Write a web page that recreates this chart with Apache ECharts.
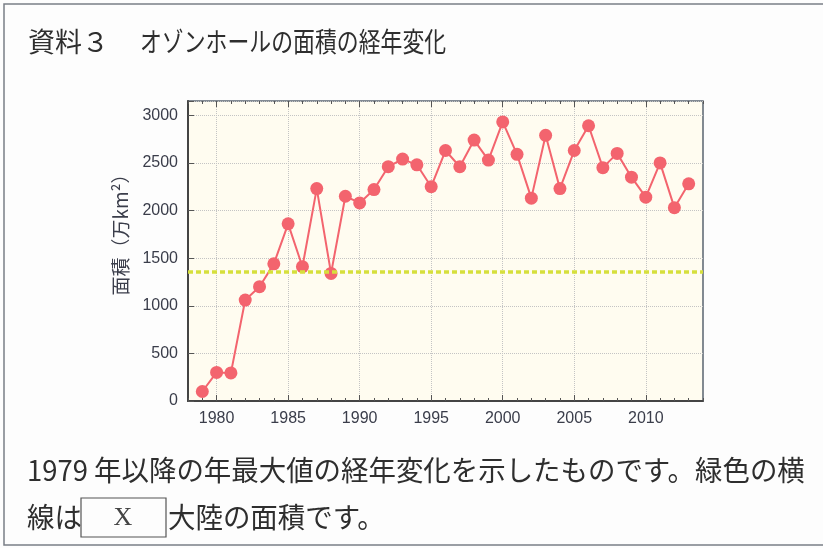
<!DOCTYPE html>
<html>
<head>
<meta charset="utf-8">
<script src="https://cdn.jsdelivr.net/npm/echarts@6/dist/echarts.min.js"></script>
<style>
html, body { margin: 0; padding: 0; background: #fdfdfd; }
#main { width: 823px; height: 548px; }
</style>
</head>
<body>
<div id="main"></div>
<script>
// 年
const years = [1979, 1980, 1981, 1982, 1983, 1984, 1985, 1986, 1987, 1988,
  1989, 1990, 1991, 1992, 1993, 1994, 1995, 1996, 1997, 1998,
  1999, 2000, 2001, 2002, 2003, 2004, 2005, 2006, 2007, 2008,
  2009, 2010, 2011, 2012, 2013];
// オゾンホールの面積の年最大値（万km²）
const areas = [100, 300, 295, 1060, 1200, 1440, 1860, 1410, 2230, 1340,
  2150, 2080, 2220, 2460, 2540, 2480, 2250, 2630, 2460, 2740,
  2530, 2930, 2590, 2130, 2790, 2230, 2630, 2890, 2450, 2600,
  2350, 2140, 2500, 2030, 2280];
// 緑色の横線（X大陸の面積）
const continentArea = 1360;

// 横軸の範囲（1978〜2014）
const axisYears = [];
for (let y = 1978; y <= 2014; y++) axisYears.push(String(y));

const tickFont = 'Liberation Sans, Arial, sans-serif';
const jpFont = '"Noto Sans CJK JP", sans-serif';
const textColor = '#2e2e2e';

const major = (idx, val) => Number(val) % 5 === 0;

function catAxis (pos, tickLen, interval) {
  return {
    type: 'category',
    data: axisYears,
    boundaryGap: false,
    position: pos,
    axisLine: { show: false, onZero: false },
    axisTick: { show: true, inside: true, length: tickLen, interval: interval, lineStyle: { color: '#555', width: 1 } },
    axisLabel: { show: false },
    splitLine: { show: false }
  };
}

const bottomMajor = catAxis('bottom', 6, major);
bottomMajor.axisLine = { show: true, onZero: false, lineStyle: { color: '#444', width: 2 } };
bottomMajor.axisLabel = {
  show: true, interval: major, color: '#3a3d4a', fontSize: 16,
  fontFamily: tickFont, margin: 10
};
bottomMajor.splitLine = { show: true, interval: major, lineStyle: { type: 'dotted', color: '#c4c4c4' } };

const myChart = echarts.init(document.getElementById('main'));
window.onresize = myChart.resize;

myChart.setOption({
  animation: false,
  grid: {
    left: 188, right: 120, top: 101, bottom: 147,
    show: true, backgroundColor: '#fffcf0', borderColor: '#5a6470', borderWidth: 1.5
  },
  xAxis: [
    bottomMajor,
    catAxis('bottom', 3, 0),
    catAxis('top', 6, major),
    catAxis('top', 3, 0)
  ],
  yAxis: {
    type: 'value',
    min: 0,
    max: 3150,
    interval: 500,
    axisLine: { show: true, lineStyle: { color: '#444', width: 2 } },
    axisTick: { show: true, inside: true, length: 6, lineStyle: { color: '#555' } },
    axisLabel: {
      color: '#3a3d4a', fontSize: 16, fontFamily: tickFont, margin: 10,
      formatter: v => (v % 500 === 0 ? v : '')
    },
    splitLine: { show: true, lineStyle: { type: 'dotted', color: '#c4c4c4' } }
  },
  series: [{
    type: 'line',
    xAxisIndex: 0,
    data: years.map((y, i) => [String(y), areas[i]]),
    symbol: 'circle',
    symbolSize: 13,
    showSymbol: true,
    showAllSymbol: true,
    lineStyle: { color: '#f3646e', width: 2 },
    itemStyle: { color: '#f3646e' },
    z: 3,
    markLine: {
      silent: true,
      symbol: 'none',
      label: { show: false },
      lineStyle: { color: '#d6df3c', type: [5, 3], width: 3.5 },
      data: [{ yAxis: continentArea }]
    }
  }],
  graphic: [
    {
      type: 'rect', silent: true, z: -1,
      shape: { x: 4, y: 4, width: 840, height: 541 },
      style: { fill: 'none', stroke: '#7a7f86', lineWidth: 1.5 }
    },
    {
      type: 'text', x: 28, y: 42,
      style: { text: '資料３', font: '27px ' + jpFont, fill: textColor, textVerticalAlign: 'middle' }
    },
    {
      type: 'text', x: 140, y: 42, scaleX: 0.81,
      style: { text: 'オゾンホールの面積の経年変化', font: '27px ' + jpFont, fill: textColor, textVerticalAlign: 'middle' }
    },
    {
      type: 'text', x: 121, y: 230, rotation: Math.PI / 2,
      style: { text: '面積（万km²）', font: '19px ' + jpFont, fill: '#3a3d4a', textAlign: 'center', textVerticalAlign: 'middle' }
    },
    {
      type: 'text', x: 27, y: 470, scaleX: 0.98,
      style: { text: '1979 年以降の年最大値の経年変化を示したものです。緑色の横', font: '28px ' + jpFont, fill: textColor, textVerticalAlign: 'middle' }
    },
    {
      type: 'text', x: 27, y: 517, scaleX: 0.98,
      style: { text: '線は', font: '28px ' + jpFont, fill: textColor, textVerticalAlign: 'middle' }
    },
    {
      type: 'rect',
      shape: { x: 81, y: 498, width: 85, height: 39 },
      style: { fill: 'none', stroke: '#555', lineWidth: 1.2 }
    },
    {
      type: 'text', x: 123, y: 518,
      style: { text: 'X', font: '26px "Liberation Serif", serif', fill: '#444', textAlign: 'center', textVerticalAlign: 'middle' }
    },
    {
      type: 'text', x: 168, y: 517, scaleX: 0.98,
      style: { text: '大陸の面積です。', font: '28px ' + jpFont, fill: textColor, textVerticalAlign: 'middle' }
    }
  ]
});
</script>
</body>
</html>
